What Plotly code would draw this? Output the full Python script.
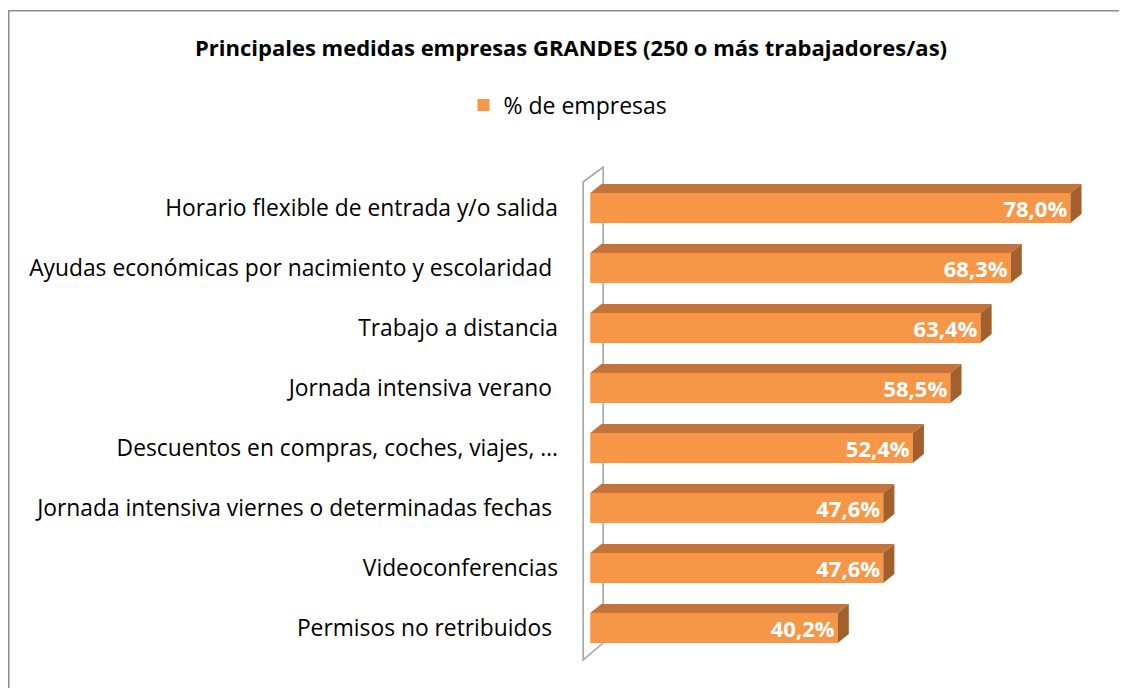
import plotly.graph_objects as go

# ---- data ----
categories = [
    "Horario flexible de entrada y/o salida",
    "Ayudas económicas por nacimiento y escolaridad\u00a0",
    "Trabajo a distancia",
    "Jornada intensiva verano\u00a0",
    "Descuentos en compras, coches, viajes, …",
    "Jornada intensiva viernes o determinadas fechas\u00a0",
    "Videoconferencias",
    "Permisos no retribuidos\u00a0",
]
values = [78.0, 68.3, 63.4, 58.5, 52.4, 47.6, 47.6, 40.2]
series_name = "% de empresas"
title_text = "Principales medidas empresas GRANDES (250 o más trabajadores/as)"

# ---- geometry / style ----
W, H = 1127, 688
OFF = 8  # page body margin
FONT = "Open Sans"
FRONT = "#F79646"
TOP = "#C4733A"
SIDE = "#A3602C"
WALL = "#A6A6A6"

x_range = [-1.5, 81.5]
y_range = [7.6167, -0.8]
ml, mr = 580.8 - OFF, W - (1091.6 - OFF)
mt, mb = 160 - OFF, H - (665 - OFF)

bar_w = 0.5
dx, dy = 1.8, 0.15  # 3D depth in axis units

ypos = list(range(len(categories)))
labels = [f"{v:.1f}".replace(".", ",") + "%" for v in values]

fig = go.Figure()
fig.add_trace(go.Bar(
    x=values, y=ypos, orientation="h", name=series_name,
    marker=dict(color=FRONT, line=dict(width=0)),
    width=bar_w,
    text=labels, textposition="inside", insidetextanchor="end",
    constraintext="none",
    textfont=dict(family=FONT, size=22, color="white", weight="bold"),
    hoverinfo="skip",
))

shapes = []
for y, v in zip(ypos, values):
    top = y - bar_w / 2
    bot = y + bar_w / 2
    shapes.append(dict(
        type="path", xref="x", yref="y", layer="above",
        path=f"M 0 {top} L {v} {top} L {v+dx} {top-dy} L {dx} {top-dy} Z",
        fillcolor=TOP, line=dict(width=0),
    ))
    shapes.append(dict(
        type="path", xref="x", yref="y", layer="above",
        path=f"M {v} {top} L {v+dx} {top-dy} L {v+dx} {bot-dy} L {v} {bot} Z",
        fillcolor=SIDE, line=dict(width=0),
    ))

# wall (3D axis wall)
wx0, wx1 = -1.15, 2.1
wy_ft, wy_fb = -0.433, 7.533
wy_bt, wy_bb = -0.683, 7.25
shapes.append(dict(
    type="path", xref="x", yref="y", layer="below",
    path=(f"M {wx0} {wy_fb} L {wx0} {wy_ft} L {wx1} {wy_bt} L {wx1} {wy_bb} Z"),
    line=dict(color=WALL, width=1.6), fillcolor="rgba(0,0,0,0)",
))

# outer chart border
pw = W - ml - mr
ph = H - mt - mb
def px_to_paper_x(px):
    return (px - ml) / pw
def py_to_paper_y(py):
    return 1 - (py - mt) / ph
shapes.append(dict(
    type="rect", xref="paper", yref="paper", layer="below",
    x0=px_to_paper_x(0.75), x1=px_to_paper_x(W + 5),
    y0=py_to_paper_y(H + 5), y1=py_to_paper_y(2.75),
    line=dict(color="#8C8C8C", width=1.5), fillcolor="rgba(0,0,0,0)",
))

fig.update_layout(
    width=W, height=H,
    margin=dict(l=ml, r=mr, t=mt, b=mb, pad=0),
    paper_bgcolor="white", plot_bgcolor="white",
    font=dict(family=FONT, color="#000000"),
    title=dict(
        text=title_text, x=(571 - OFF) / W, xref="container", xanchor="center",
        y=1 - (48 - OFF) / H, yref="container", yanchor="middle",
        font=dict(family=FONT, size=22, color="#000000", weight="bold"),
    ),
    showlegend=True,
    legend=dict(
        orientation="h", xref="container", yref="container",
        x=(568 - OFF) / W, xanchor="center", y=1 - (105 - OFF) / H, yanchor="middle",
        font=dict(family=FONT, size=23, color="#000000"),
        itemwidth=30,
    ),
    xaxis=dict(range=x_range, visible=False, fixedrange=True),
    yaxis=dict(
        range=y_range, tickvals=ypos, ticktext=categories,
        showgrid=False, zeroline=False, showline=False, ticks="",
        tickfont=dict(family=FONT, size=22.8, color="#000000"),
        ticklabelstandoff=22,
    ),
    bargap=0.5,
    shapes=shapes,
    uniformtext=dict(mode=False),
)

fig.write_html("out.html")
